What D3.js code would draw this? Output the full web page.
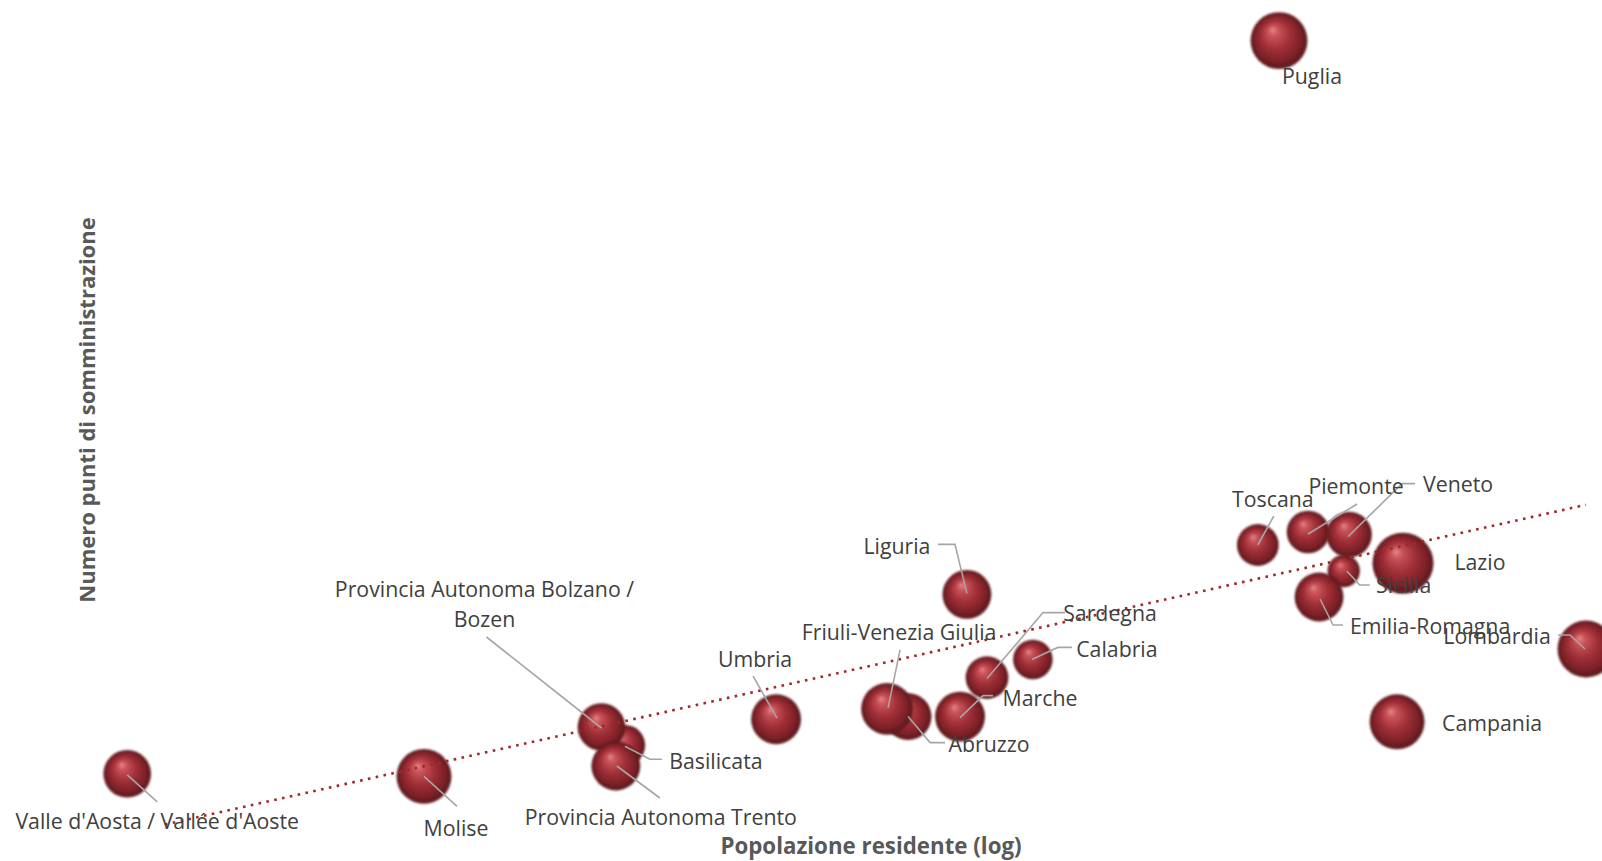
<!DOCTYPE html>
<html>
<head>
<meta charset="utf-8">
<script src="https://cdn.jsdelivr.net/npm/d3@7"></script>
<style>
  body { margin: 0; background: #fff; }
  text { font-family: "Open Sans", sans-serif; }
</style>
</head>
<body>
<div id="chart"></div>
<script>
// regions, in drawing order
var regioni = ["Valle d'Aosta / Vallée d'Aoste", "Molise", "Basilicata",
  "Provincia Autonoma Bolzano / Bozen", "Provincia Autonoma Trento", "Umbria",
  "Abruzzo", "Friuli-Venezia Giulia", "Marche", "Sardegna", "Calabria", "Liguria",
  "Toscana", "Puglia", "Piemonte", "Sicilia", "Veneto", "Emilia-Romagna",
  "Lazio", "Campania", "Lombardia"];
// popolazione residente
var popolazione = [125000, 305000, 558000, 520000, 543000, 879000,
  1307000, 1227000, 1528000, 1657000, 1902000, 1560000,
  3740000, 3986000, 4350000, 4842000, 4920000, 4496000,
  5786000, 5684000, 10030000];
// numero punti di somministrazione
var punti = [12, 11, 23, 30, 15, 33,
  34, 37, 34, 49, 56, 81,
  100, 294, 105, 90, 104, 80,
  93, 32, 60];
// bubble size
var dimensione = [61, 81, 44, 61, 64, 67,
  59, 72, 67, 49, 42, 64,
  47, 87, 49, 28, 56, 64,
  100, 81, 87];

var xTitle = "Popolazione residente (log)";
var yTitle = "Numero punti di somministrazione";

// label placement relative to bubble centre: text [dx,dy], leader polyline
var labelPos = {
  "Valle d'Aosta / Vallée d'Aoste": {t: [30, 48], l: [[0, 1], [30, 28]]},
  "Molise": {t: [32, 52], l: [[0, 0], [33, 30]]},
  "Basilicata": {t: [91, 16], l: [[0, 1], [25, 14], [37, 14]]},
  "Provincia Autonoma Bolzano / Bozen": {t: [-117, -137], l: [[0, 1], [-115, -90]]},
  "Provincia Autonoma Trento": {t: [45, 52], l: [[1, 0], [44, 32]]},
  "Umbria": {t: [-21, -60], l: [[1, -1], [-23, -43]]},
  "Abruzzo": {t: [81, 28], l: [[0, 0], [22, 26], [37, 26]]},
  "Friuli-Venezia Giulia": {t: [12, -76], l: [[1, -1], [13, -59]]},
  "Marche": {t: [80, -18], l: [[0, 1], [23, -21], [33, -21]]},
  "Sardegna": {t: [123, -64], l: [[0, 1], [56, -65], [78, -65]]},
  "Calabria": {t: [84, -10], l: [[-1, 0], [25, -12], [39, -12]]},
  "Liguria": {t: [-70, -48], l: [[0, -1], [-12, -50], [-29, -50]]},
  "Toscana": {t: [15, -45], l: [[0, 0], [16, -29]]},
  "Puglia": {t: [33, 36], l: null},
  "Piemonte": {t: [48, -45], l: [[0, 2], [49, -28]]},
  "Sicilia": {t: [60, 15], l: [[3, 0], [16, 14], [26, 14]]},
  "Veneto": {t: [109, -50], l: [[-1, 2], [53, -51], [66, -51]]},
  "Emilia-Romagna": {t: [111, 30], l: [[1, 2], [14, 28], [24, 28]]},
  "Lazio": {t: [77, -1], l: null},
  "Campania": {t: [95, 2], l: null},
  "Lombardia": {t: [-89, -12], l: [[-1, 0], [-16, -14], [-28, -14]]}
};

var width = 1602, height = 861;

var data = regioni.map(function(d, i) {
  return {name: d, pop: popolazione[i], punti: punti[i], size: dimensione[i]};
});

var x = d3.scaleLog()
    .domain([1e5, 1e7])
    .range([53, 1585]);

var y = d3.scaleLinear()
    .domain([0, 300])
    .range([805, 25]);

var r = d3.scaleSqrt()
    .domain([0, 100])
    .range([0, 30.5]);

var svg = d3.select("#chart").append("svg")
    .attr("width", width)
    .attr("height", height)
    .style("display", "block");

var defs = svg.append("defs");
var grad = defs.append("radialGradient")
    .attr("id", "sphere")
    .attr("cx", "50%").attr("cy", "50%").attr("r", "50%")
    .attr("fx", "38%").attr("fy", "30%");
[[0, "#e88a8a"], [0.18, "#c9535a"], [0.5, "#a23038"], [0.8, "#7e2128"], [1, "#581b1d"]]
  .forEach(function(s) {
    grad.append("stop").attr("offset", s[0]).attr("stop-color", s[1]);
  });
defs.append("filter").attr("id", "soft")
    .attr("x", "-20%").attr("y", "-20%").attr("width", "140%").attr("height", "140%")
  .append("feGaussianBlur").attr("stdDeviation", 1.3);

// trendline: least squares of punti on log10(popolazione)
var lx = data.map(function(d) { return Math.log10(d.pop); });
var mx = d3.mean(lx), my = d3.mean(data, function(d) { return d.punti; });
var sxy = d3.sum(data, function(d, i) { return (lx[i] - mx) * (d.punti - my); });
var sxx = d3.sum(lx, function(v) { return (v - mx) * (v - mx); });
var slope = sxy / sxx, icpt = my - slope * mx;
var trendX = [140000, d3.max(popolazione)];

// bubbles
svg.append("g").selectAll("circle")
    .data(data)
  .enter().append("circle")
    .attr("cx", function(d) { return x(d.pop); })
    .attr("cy", function(d) { return y(d.punti); })
    .attr("r", function(d) { return r(d.size); })
    .attr("fill", "url(#sphere)")
    .attr("filter", "url(#soft)");

svg.append("line")
    .attr("x1", x(trendX[0]))
    .attr("y1", y(icpt + slope * Math.log10(trendX[0])))
    .attr("x2", x(trendX[1]))
    .attr("y2", y(icpt + slope * Math.log10(trendX[1])))
    .attr("stroke", "#a3282b")
    .attr("stroke-width", 2.6)
    .attr("stroke-dasharray", "2.6,5.4");

// leader lines
var line = d3.line();
svg.append("g").selectAll("path")
    .data(data.filter(function(d) { return labelPos[d.name].l; }))
  .enter().append("path")
    .attr("d", function(d) {
      var cx = x(d.pop), cy = y(d.punti);
      return line(labelPos[d.name].l.map(function(p) { return [cx + p[0], cy + p[1]]; }));
    })
    .attr("fill", "none")
    .attr("stroke", "#a6a6a6")
    .attr("stroke-width", 1.6);

// labels
var labels = svg.append("g").selectAll("text")
    .data(data)
  .enter().append("text")
    .attr("x", function(d) { return x(d.pop) + labelPos[d.name].t[0]; })
    .attr("y", function(d) { return y(d.punti) + labelPos[d.name].t[1]; })
    .attr("dy", "0.35em")
    .attr("text-anchor", "middle")
    .attr("fill", "#404040")
    .style("font-size", "21.3px");

labels.each(function(d) {
  var t = d3.select(this);
  if (d.name === "Provincia Autonoma Bolzano / Bozen") {
    t.append("tspan").text("Provincia Autonoma Bolzano /");
    t.append("tspan").attr("x", t.attr("x")).attr("dy", "1.37em").text("Bozen");
  } else {
    t.text(d.name);
  }
});

// axis titles
svg.append("text")
    .attr("x", 871)
    .attr("y", 846)
    .attr("dy", "0.35em")
    .attr("text-anchor", "middle")
    .attr("fill", "#595959")
    .style("font-size", "22.3px")
    .style("font-weight", "bold")
    .text(xTitle);

svg.append("text")
    .attr("transform", "translate(87,410) rotate(-90)")
    .attr("dy", "0.35em")
    .attr("text-anchor", "middle")
    .attr("fill", "#595959")
    .style("font-size", "22px")
    .style("font-weight", "bold")
    .text(yTitle);
</script>
</body>
</html>
